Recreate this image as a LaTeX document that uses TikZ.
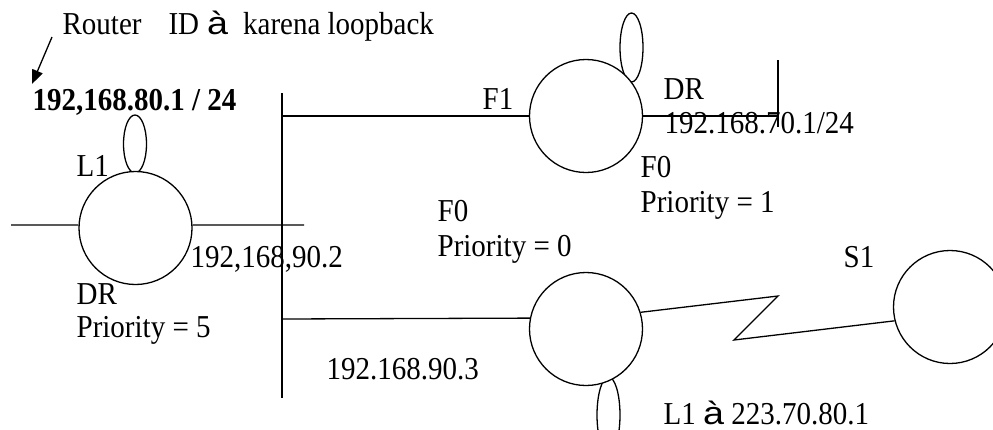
\documentclass[tikz,border=0pt]{standalone}
\usepackage{fontspec}
\usepackage{graphicx}
\setmainfont{Liberation Serif}
\newfontfamily\arialfont{Liberation Sans}
\usetikzlibrary{arrows.meta,shapes.geometric}
% slightly tall lettering, and the sans-serif arrow glyph
\newcommand{\tall}[1]{\scalebox{1}[1.1]{#1}}
\newcommand{\sarr}{\scalebox{1.3}[1]{\arialfont à}}
\begin{document}
\begin{tikzpicture}[x=1pt,y=-1pt,
  line width=1.3pt,
  router/.style={circle,draw,fill=white,minimum size=113pt,inner sep=0pt},
  loopback/.style={ellipse,draw,minimum width=23pt,minimum height=#1,inner sep=0pt},
  lbl/.style={anchor=base west,inner sep=0pt,font=\fontsize{29}{34}\selectfont},
  wire/.style={line width=1.3pt}]
\useasboundingbox (0,0) rectangle (993,429);
\clip (0,0) rectangle (993,429);

% loopback interfaces (drawn first so the routers cover their feet)
\node[loopback=58pt] (lbA) at (135,144) {};
\node[loopback=69pt] (lbB) at (631.5,47.5) {};
\node[loopback=76pt] (lbC) at (608.5,415) {};

% routers
\node[router] (ra) at (135.5,228) {};
\node[router] (rb) at (586,116) {};
\node[router] (rc) at (586,329) {};
\node[router] (rd) at (950,307) {};

% free ends of the segments
\coordinate (aw) at (11,225);
\coordinate (ae) at (304,225);
\coordinate (busT) at (282,93);
\coordinate (busB) at (282,398);
\coordinate (busF1) at (282,116);
\coordinate (busF0) at (282,319);
\coordinate (be) at (778,116);
\coordinate (bT) at (778,60);
\coordinate (bB) at (778,127);
\coordinate (z1) at (778,296);
\coordinate (z2) at (734,340);

% Ethernet segments
\draw[wire] (aw) -- (ra.177);
\draw[wire] (ra.3) -- (ae);
\draw[wire] (busT) -- (busB);
\draw[wire] (busF1) -- (rb.west);
\draw[wire] (busF0) -- (rc.169);
\draw[wire] (rb.east) -- (be);
\draw[wire] (bT) -- (bB);

% serial link
\draw[wire] (rc.17) -- (z1) -- (z2) -- (rd.194);

% labels
\node[lbl] (rid) at (62,34) {\tall{Router\hspace{27pt}ID\hspace{8pt}\sarr\hspace{15pt}karena loopback}};
\node[lbl] (ridip) at (32,110) {\tall{\bfseries 192,168.80.1 / 24}};
\coordinate (arS) at (52,37);
\coordinate (arE) at (32,84);
\draw[wire,-{Triangle[length=14pt,width=11pt]}] (arS) -- (arE);

\node[lbl] (tL1) at (76,176) {\tall{L1}};
\node[lbl] (tDRa) at (76,304) {\tall{DR}};
\node[lbl] (tPa) at (76,337) {\tall{Priority = 5}};
\node[lbl] (tIPa) at (190,267) {\tall{192,168,90.2}};

\node[lbl] (tF1) at (482,109) {\tall{F1}};
\node[lbl] (tDRb) at (663,99) {\tall{DR}};
\node[lbl] (tIPb) at (664,133) {\tall{192.168.70.1/24}};
\node[lbl] (tF0b) at (640,177) {\tall{F0}};
\node[lbl] (tPb) at (640,212) {\tall{Priority = 1}};

\node[lbl] (tF0c) at (437,221) {\tall{F0}};
\node[lbl] (tPc) at (437,256) {\tall{Priority = 0}};
\node[lbl] (tIPc) at (326,379) {\tall{192.168.90.3}};
\node[lbl] (tL1c) at (663,424) {\tall{L1 \sarr\ 223.70.80.1}};

\node[lbl] (tS1) at (843,267) {\tall{S1}};
\end{tikzpicture}
\end{document}
